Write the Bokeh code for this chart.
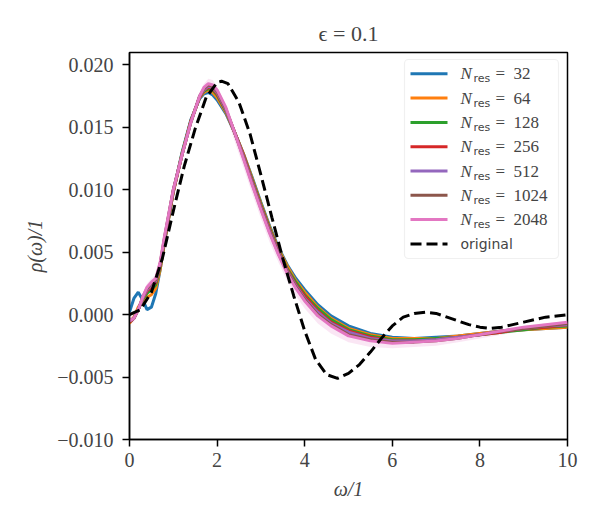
from bokeh.plotting import figure
from bokeh.models import FixedTicker, CustomJSTickFormatter, Label, BoxAnnotation
from bokeh.embed import file_html
from bokeh.resources import INLINE

# --- data -------------------------------------------------------------
omega = [0.0, 0.1, 0.2, 0.3, 0.4, 0.5, 0.6, 0.7, 0.8, 1.0, 1.2, 1.4, 1.6, 1.7,
         1.8, 1.9, 2.0, 2.2, 2.4, 2.6, 2.8, 3.0, 3.2, 3.4, 3.6, 3.8, 4.0, 4.3,
         4.6, 5.0, 5.5, 6.0, 6.5, 7.0, 7.5, 8.0, 8.5, 9.0, 9.5, 10.0]

rho_32 = [0.0002, 0.0013, 0.0018, 0.0012, 0.0004, 0.0006, 0.0017, 0.0036, 0.0058,
          0.0098, 0.0130, 0.0156, 0.0173, 0.0177, 0.0178, 0.0176, 0.0172, 0.0161,
          0.0146, 0.0129, 0.0110, 0.0090, 0.0071, 0.0054, 0.0040, 0.0029, 0.0020,
          0.0008, -0.0001, -0.0009, -0.0015, -0.0018, -0.0019, -0.0018, -0.0017,
          -0.0015, -0.0013, -0.0012, -0.0011, -0.0010]
rho_64 = [-0.0007, -0.0002, 0.0006, 0.0011, 0.0014, 0.0016, 0.0021, 0.0036, 0.0058,
          0.0098, 0.0129, 0.0155, 0.0174, 0.0178, 0.0180, 0.0178, 0.0174, 0.0162,
          0.0146, 0.0129, 0.0109, 0.0089, 0.0070, 0.0053, 0.0039, 0.0027, 0.0018,
          0.0006, -0.0003, -0.0011, -0.0016, -0.0019, -0.0019, -0.0019, -0.0017,
          -0.0015, -0.0013, -0.0012, -0.0011, -0.0010]
rho_128 = [-0.0006, -0.0003, 0.0004, 0.0012, 0.0017, 0.0020, 0.0024, 0.0038, 0.0059,
           0.0099, 0.0129, 0.0155, 0.0174, 0.0179, 0.0181, 0.0180, 0.0176, 0.0163,
           0.0146, 0.0128, 0.0108, 0.0088, 0.0069, 0.0052, 0.0037, 0.0026, 0.0016,
           0.0005, -0.0004, -0.0012, -0.0017, -0.0020, -0.0020, -0.0019, -0.0018,
           -0.0016, -0.0014, -0.0012, -0.0010, -0.0009]
rho_256 = [-0.0006, -0.0003, 0.0004, 0.0013, 0.0019, 0.0022, 0.0026, 0.0039, 0.0060,
           0.0099, 0.0128, 0.0155, 0.0174, 0.0180, 0.0182, 0.0181, 0.0177, 0.0164,
           0.0146, 0.0128, 0.0107, 0.0087, 0.0068, 0.0051, 0.0036, 0.0024, 0.0015,
           0.0003, -0.0006, -0.0013, -0.0018, -0.0021, -0.0021, -0.0020, -0.0018,
           -0.0016, -0.0014, -0.0011, -0.0010, -0.0008]
rho_512 = [-0.0005, -0.0003, 0.0004, 0.0013, 0.0020, 0.0024, 0.0027, 0.0040, 0.0061,
           0.0100, 0.0128, 0.0154, 0.0175, 0.0180, 0.0183, 0.0182, 0.0178, 0.0164,
           0.0146, 0.0127, 0.0106, 0.0086, 0.0067, 0.0050, 0.0035, 0.0023, 0.0013,
           0.0002, -0.0007, -0.0014, -0.0019, -0.0021, -0.0021, -0.0020, -0.0018,
           -0.0016, -0.0013, -0.0011, -0.0009, -0.0008]
rho_1024 = [-0.0005, -0.0003, 0.0004, 0.0014, 0.0021, 0.0025, 0.0028, 0.0041, 0.0062,
            0.0100, 0.0128, 0.0154, 0.0175, 0.0181, 0.0184, 0.0183, 0.0179, 0.0165,
            0.0146, 0.0126, 0.0105, 0.0085, 0.0066, 0.0049, 0.0034, 0.0022, 0.0012,
            0.0000, -0.0008, -0.0016, -0.0020, -0.0022, -0.0022, -0.0021, -0.0019,
            -0.0016, -0.0013, -0.0011, -0.0009, -0.0007]
rho_2048 = [-0.0005, -0.0003, 0.0004, 0.0014, 0.0022, 0.0026, 0.0029, 0.0042, 0.0063,
            0.0100, 0.0128, 0.0154, 0.0175, 0.0182, 0.0185, 0.0184, 0.0180, 0.0166,
            0.0146, 0.0125, 0.0104, 0.0084, 0.0065, 0.0048, 0.0033, 0.0021, 0.0011,
            -0.0001, -0.0009, -0.0017, -0.0021, -0.0023, -0.0022, -0.0021, -0.0019,
            -0.0016, -0.0013, -0.0010, -0.0008, -0.0006]

# spread of the N_res = 2048 reconstructions
rho_2048_lo = [-0.0008, -0.0006, 0.0001, 0.0010, 0.0018, 0.0022, 0.0025, 0.0038, 0.0059,
               0.0096, 0.0124, 0.0150, 0.0171, 0.0178, 0.0181, 0.0180, 0.0175, 0.0160,
               0.0139, 0.0118, 0.0097, 0.0077, 0.0058, 0.0042, 0.0027, 0.0015, 0.0005,
               -0.0007, -0.0015, -0.0022, -0.0026, -0.0027, -0.0026, -0.0025, -0.0022,
               -0.0019, -0.0016, -0.0013, -0.0010, -0.0008]
rho_2048_hi = [-0.0002, 0.0000, 0.0007, 0.0017, 0.0025, 0.0029, 0.0032, 0.0045, 0.0066,
               0.0103, 0.0131, 0.0157, 0.0178, 0.0185, 0.0189, 0.0188, 0.0183, 0.0168,
               0.0148, 0.0127, 0.0106, 0.0086, 0.0067, 0.0050, 0.0035, 0.0022, 0.0012,
               0.0000, -0.0008, -0.0016, -0.0020, -0.0022, -0.0021, -0.0020, -0.0018,
               -0.0015, -0.0012, -0.0009, -0.0007, -0.0005]

omega_orig = [0.0, 0.25, 0.5, 0.75, 1.0, 1.25, 1.5, 1.75, 2.0, 2.1, 2.25, 2.5, 2.75,
              3.0, 3.25, 3.5, 3.75, 4.0, 4.25, 4.5, 4.75, 5.0, 5.25, 5.5, 5.75, 6.0,
              6.25, 6.5, 6.75, 7.0, 7.25, 7.5, 7.75, 8.0, 8.25, 8.5, 8.75, 9.0, 9.25,
              9.5, 9.75, 10.0]
rho_orig = [0.0, 0.0004, 0.0018, 0.0045, 0.0083, 0.0119, 0.0149, 0.0174, 0.0186,
            0.0187, 0.0185, 0.0170, 0.0145, 0.0112, 0.0078, 0.0045, 0.0015, -0.0013,
            -0.0036, -0.0048, -0.0051, -0.0047, -0.0040, -0.0030, -0.0019, -0.0009,
            -0.0002, 0.0001, 0.0002, 0.0001, -0.0002, -0.0005, -0.0008, -0.0010,
            -0.0011, -0.0010, -0.0008, -0.0006, -0.0004, -0.0002, -0.0001, 0.0]

n_res = ["32", "64", "128", "256", "512", "1024", "2048"]
series = [rho_32, rho_64, rho_128, rho_256, rho_512, rho_1024, rho_2048]
colors = ["#1f77b4", "#ff7f0e", "#2ca02c", "#d62728", "#9467bd", "#8c564b", "#e377c2"]

x_ticks = [0, 2, 4, 6, 8, 10]
y_ticks = [-0.010, -0.005, 0.0, 0.005, 0.010, 0.015, 0.020]

# --- figure -----------------------------------------------------------
X_MIN, X_MAX = 0.0, 10.0
Y_MIN, Y_MAX = -0.010, 0.021
LEFT, RIGHT, TOP, BOTTOM = 129, 33, 52, 86
W, H = 600, 525
FW, FH = W - LEFT - RIGHT, H - TOP - BOTTOM

SERIF = "Liberation Serif"
SANS = "DejaVu Sans"

p = figure(width=W, height=H, x_range=(X_MIN, X_MAX), y_range=(Y_MIN, Y_MAX),
           output_backend="svg", toolbar_location=None,
           min_border_left=LEFT, min_border_right=RIGHT,
           min_border_top=TOP, min_border_bottom=BOTTOM,
           background_fill_color="white", border_fill_color="white")

p.title.text = "ϵ = 0.1"
p.title.align = "center"
p.title.text_font = SERIF
p.title.text_font_size = "22px"
p.title.text_font_style = "normal"
p.title.standoff = 13

p.xgrid.visible = False
p.ygrid.visible = False
p.outline_line_color = "black"
p.outline_line_width = 1.5
p.outline_line_alpha = 1.0

for ax in (p.xaxis[0], p.yaxis[0]):
    ax.axis_line_width = 1.5
    ax.major_tick_line_width = 1.5
    ax.major_tick_out = 7
    ax.major_tick_in = 0
    ax.minor_tick_line_color = None
    ax.major_label_text_font = SERIF
    ax.major_label_text_font_size = "20px"
    ax.axis_label_text_font = SERIF
    ax.axis_label_text_font_size = "20px"
    ax.axis_label_text_font_style = "italic"

p.xaxis.major_label_standoff = 6
p.yaxis.major_label_standoff = 9
p.xaxis.axis_label_standoff = 8
p.yaxis.axis_label_standoff = 8

p.xaxis.ticker = FixedTicker(ticks=x_ticks)
p.yaxis.ticker = FixedTicker(ticks=y_ticks)
p.yaxis.formatter = CustomJSTickFormatter(
    code="return (tick < -1e-12 ? '\u2212' : '') + Math.abs(tick).toFixed(3);")
p.xaxis.axis_label = "ω/1"
p.yaxis.axis_label = "ρ(ω)/1"

# translucent spread of the largest reconstruction
p.varea(x=omega, y1=rho_2048_lo, y2=rho_2048_hi, fill_color=colors[-1], fill_alpha=0.18)

for ys, c in zip(series, colors):
    p.line(omega, ys, line_color=c, line_width=3)

p.line(omega_orig, rho_orig, line_color="black", line_width=3, line_dash="11 5")

# --- legend (upper right) --------------------------------------------
def dx(px):
    return X_MIN + (px - LEFT) / FW * (X_MAX - X_MIN)


def dy(py):
    return Y_MIN + (TOP + FH - py) / FH * (Y_MAX - Y_MIN)


box = BoxAnnotation(left=dx(404), right=dx(558), top=dy(59), bottom=dy(258),
                    fill_color="white", fill_alpha=0.85, line_color="#cccccc",
                    line_width=1.2, border_radius=4, level="annotation")
p.add_layout(box)

row0, row_step = 73.3, 24.3
for i, (n, c) in enumerate(zip(n_res, colors)):
    ry = row0 + i * row_step
    p.segment(x0=[dx(410)], y0=[dy(ry)], x1=[dx(447)], y1=[dy(ry)],
              line_color=c, line_width=3, level="overlay")
    p.add_layout(Label(x=dx(460), y=dy(ry), text="N", text_font=SERIF,
                       text_font_size="17px", text_font_style="italic",
                       text_baseline="middle", level="overlay"))
    p.add_layout(Label(x=dx(473), y=dy(ry + 5), text="res", text_font=SANS,
                       text_font_size="11px", text_baseline="middle", level="overlay"))
    p.add_layout(Label(x=dx(495), y=dy(ry), text="=", text_font=SERIF,
                       text_font_size="17px", text_baseline="middle", level="overlay"))
    p.add_layout(Label(x=dx(513), y=dy(ry), text=n, text_font=SERIF,
                       text_font_size="17px", text_baseline="middle", level="overlay"))

ry = row0 + len(n_res) * row_step
p.segment(x0=[dx(410)], y0=[dy(ry)], x1=[dx(447)], y1=[dy(ry)],
          line_color="black", line_width=3, line_dash="11 5", level="overlay")
p.add_layout(Label(x=dx(460), y=dy(ry), text="original", text_font=SANS,
                   text_font_size="14px", text_baseline="middle", level="overlay"))

open("out.html", "w").write(file_html(p, INLINE))
